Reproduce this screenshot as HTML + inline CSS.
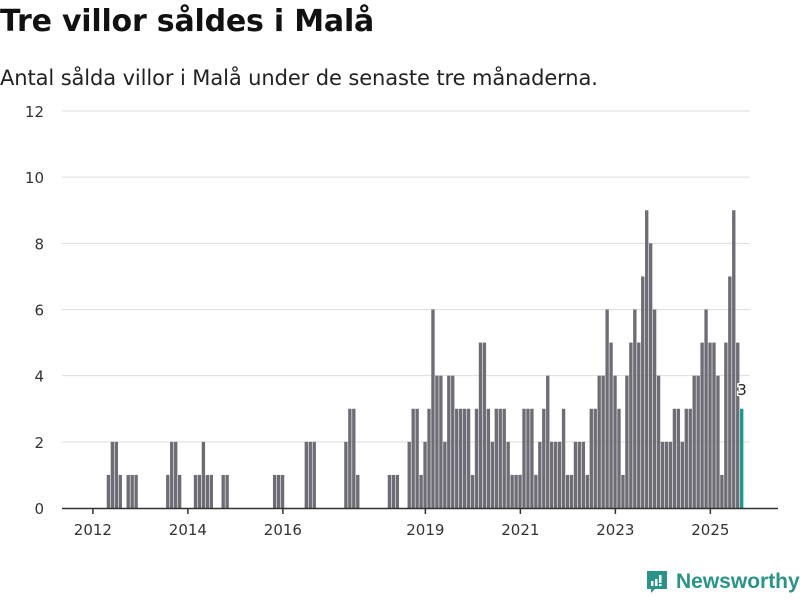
<!DOCTYPE html>
<html><head><meta charset="utf-8"><style>
body{margin:0;width:800px;height:600px;background:#fff;font-family:"DejaVu Sans","Liberation Sans",sans-serif;overflow:hidden;position:relative}
h1{position:absolute;left:0;top:4px;margin:0;font-size:30px;font-weight:bold;color:#111;letter-spacing:-0.2px}
.sub{position:absolute;left:0;top:66px;font-size:21px;color:#222;letter-spacing:-0.1px}
svg{position:absolute;left:0;top:0}
</style></head><body>
<h1>Tre villor såldes i Malå</h1>
<div class="sub">Antal sålda villor i Malå under de senaste tre månaderna.</div>
<svg id="chart" width="800" height="600" style="font-family:'DejaVu Sans',sans-serif"></svg>
<div style="position:absolute;left:645px;top:569px;display:flex;align-items:center;color:#2a9488;font-family:'Liberation Sans',sans-serif;font-size:21px;font-weight:bold">
<svg width="24" height="26" style="position:static;margin-right:7px"><path d="M2 2h20v18H10l-4 4v-4H2z" fill="#2a9488"/><rect x="6" y="12" width="2.5" height="5" fill="#fff"/><rect x="10" y="10" width="2.5" height="7" fill="#fff"/><rect x="14" y="6" width="2.5" height="8" fill="#fff"/><rect x="14" y="15" width="2.5" height="2" fill="#fff"/></svg>Newsworthy</div>
<script>
const startYear = 2012;
const values = [
0,0,0,0,1,2,2,1,0,1,1,1,
0,0,0,0,0,0,0,1,2,2,1,0,
0,0,1,1,2,1,1,0,0,1,1,0,
0,0,0,0,0,0,0,0,0,0,1,1,
1,0,0,0,0,0,2,2,2,0,0,0,
0,0,0,0,2,3,3,1,0,0,0,0,
0,0,0,1,1,1,0,0,2,3,3,1,
2,3,6,4,4,2,4,4,3,3,3,3,
1,3,5,5,3,2,3,3,3,2,1,1,
1,3,3,3,1,2,3,4,2,2,2,3,
1,1,2,2,2,1,3,3,4,4,6,5,
4,3,1,4,5,6,5,7,9,8,6,4,
2,2,2,3,3,2,3,3,4,4,5,6,
5,5,4,1,5,7,9,5,3];
const yTicks = [0,2,4,6,8,10,12];
const xTickYears = [2012,2014,2016,2019,2021,2023,2025];

const NS="http://www.w3.org/2000/svg";
const svg=document.getElementById('chart');
const x0=90.9, mw=3.958, y0=508, yMax=12, plotH=397;
const xScale=m=>x0+m*mw;
const yScale=v=>y0-v/yMax*plotH;
function mk(t,a){const e=document.createElementNS(NS,t);for(const k in a)e.setAttribute(k,a[k]);svg.appendChild(e);return e;}
yTicks.forEach(v=>{
  if(v>0){const g=mk('line',{x1:62,x2:750,y1:yScale(v),y2:yScale(v),stroke:'#ddd','stroke-width':1});
  
  }
  const t=mk('text',{x:44,y:yScale(v)+6,'text-anchor':'end','font-size':15,fill:'#333'});
  t.textContent=v;
  
  
});
values.forEach((v,i)=>{
  if(!v)return;
  const last=i===values.length-1;
  const r=mk('rect',{x:xScale(i),y:yScale(v),width:mw-0.6,height:y0-yScale(v),fill:last?'#1a9a8f':'#6e6d75'});
  
  
  if(last){
    const t=mk('text',{x:xScale(i)+mw/2,y:yScale(v)-14,'text-anchor':'middle','font-size':15,fill:'#222',stroke:'#fff','stroke-width':3,'paint-order':'stroke'});
    t.textContent=v;
    
    
  }
});
const ax=mk('line',{x1:62,x2:778,y1:y0+0.5,y2:y0+0.5,stroke:'#333','stroke-width':1.5});


xTickYears.forEach(yr=>{
  const x=xScale((yr-startYear)*12)+2;
  const l=mk('line',{x1:x,x2:x,y1:y0,y2:y0+6,stroke:'#333','stroke-width':1.5});
  
  
  const t=mk('text',{x:x,y:y0+27,'text-anchor':'middle','font-size':15,fill:'#333'});
  t.textContent=yr;
  
  
});
</script>
</body></html>
